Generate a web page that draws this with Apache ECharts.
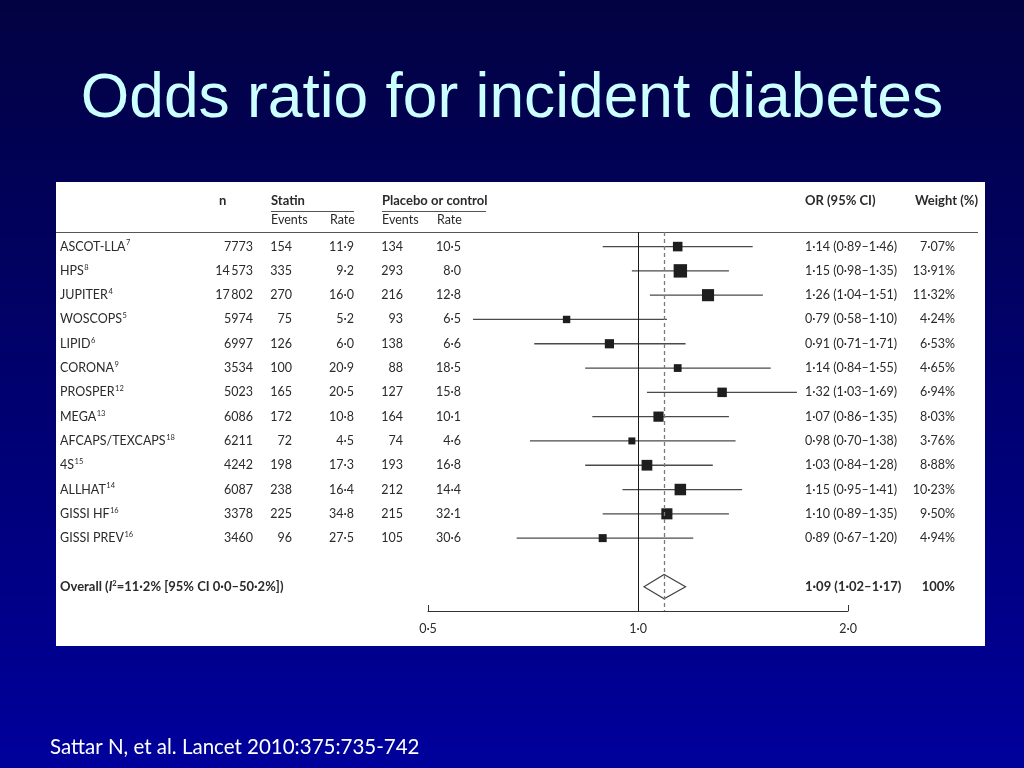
<!DOCTYPE html>
<html>
<head>
<meta charset="utf-8">
<script src="https://cdn.jsdelivr.net/npm/echarts@6/dist/echarts.min.js"></script>
<style>
html,body{margin:0;padding:0;width:1024px;height:768px;overflow:hidden;background:#000060;}
#c{width:1024px;height:768px;}
</style>
</head>
<body>
<div id="c"></div>
<script>
// ---------- data ----------
const names = ['ASCOT-LLA','HPS','JUPITER','WOSCOPS','LIPID','CORONA','PROSPER','MEGA','AFCAPS/TEXCAPS','4S','ALLHAT','GISSI HF','GISSI PREV'];
const refs = ['7','8','4','5','6','9','12','13','18','15','14','16','16'];
const nTotal = [7773,14573,17802,5974,6997,3534,5023,6086,6211,4242,6087,3378,3460];
const statinEvents = [154,335,270,75,126,100,165,172,72,198,238,225,96];
const statinRate = [11.9,9.2,16.0,5.2,6.0,20.9,20.5,10.8,4.5,17.3,16.4,34.8,27.5];
const placeboEvents = [134,293,216,93,138,88,127,164,74,193,212,215,105];
const placeboRate = [10.5,8.0,12.8,6.5,6.6,18.5,15.8,10.1,4.6,16.8,14.4,32.1,30.6];
const oddsRatio = [1.14,1.15,1.26,0.79,0.91,1.14,1.32,1.07,0.98,1.03,1.15,1.10,0.89];
const ciLow = [0.89,0.98,1.04,0.58,0.71,0.84,1.03,0.86,0.70,0.84,0.95,0.89,0.67];
const ciHigh = [1.46,1.35,1.51,1.10,1.17,1.55,1.69,1.35,1.38,1.28,1.41,1.35,1.20];
const orLabels = ['1·14 (0·89–1·46)','1·15 (0·98–1·35)','1·26 (1·04–1·51)','0·79 (0·58–1·10)','0·91 (0·71–1·71)','1·14 (0·84–1·55)','1·32 (1·03–1·69)','1·07 (0·86–1·35)','0·98 (0·70–1·38)','1·03 (0·84–1·28)','1·15 (0·95–1·41)','1·10 (0·89–1·35)','0·89 (0·67–1·20)'];
const weights = [7.07,13.91,11.32,4.24,6.53,4.65,6.94,8.03,3.76,8.88,10.23,9.50,4.94];
const overallOR = [1.09];
const overallLow = [1.02];
const overallHigh = [1.17];
const overallLabel = ['1·09 (1·02–1·17)'];
const overallWeight = ['100%'];
const xTicks = [0.5, 1, 2];

// ---------- layout ----------
const OVERALL_ROW = 14;
const FONT = 'Lato, "Open Sans", sans-serif';
const TXT = '#2a2a2a';
const REG = '12.5px ' + FONT;
const BOLD = 'bold 13px ' + FONT;
const LH = 15;
const col = {name:60, n:253, sEv:292, sRate:354, pEv:403, pRate:461, or:805, w:955};

const dot = s => String(s).replace('.', '·');
const fmt1 = v => dot(v.toFixed(1));
const fmtN = v => v >= 10000 ? String(v).replace(/(\d+)(\d{3})$/, '$1\u2009$2') : String(v);
const fmtW = v => dot(v.toFixed(2)) + '%';

const rows = names.map((_, i) => [1, i]);

function txt(x, y, text, align, extra) {
  return {
    type: 'text', x: x, y: y,
    style: Object.assign({text: text, fill: TXT, font: REG, align: align || 'left', verticalAlign: 'middle'}, extra || {})
  };
}
function gtxt(x, y, text, font) {
  return {type:'text', z:-8, x:x, y:y, style:{text:text, fill:TXT, font:font, align:'left', verticalAlign:'middle'}};
}

const chart = echarts.init(document.getElementById('c'), null, {renderer: 'canvas'});

const bg = {
  type: 'rect', z: -10, shape: {x:0, y:0, width:1024, height:768},
  style: {fill: new echarts.graphic.LinearGradient(0,0,0,1,[{offset:0,color:'#020242'},{offset:0.5,color:'#00006e'},{offset:1,color:'#00009c'}])}
};

const option = {
  animation: false,
  graphic: [
    bg,
    {type:'rect', z:-9, shape:{x:56, y:182, width:929, height:464}, style:{fill:'#ffffff'}},
    {type:'text', z:-8, x:512, y:100, style:{text:'Odds ratio for incident diabetes', fill:'#ccffff', font:'62.3px "Liberation Sans", Arial, sans-serif', align:'center', verticalAlign:'middle'}},
    {type:'text', z:-8, x:50, y:747, style:{text:'Sattar N, et al. Lancet 2010:375:735-742', fill:'#ffffff', font:'20.5px Lato, sans-serif', align:'left', verticalAlign:'middle'}},
    // header
    gtxt(219, 201, 'n', BOLD),
    gtxt(271, 201, 'Statin', BOLD),
    gtxt(382, 201, 'Placebo or control', BOLD),
    gtxt(805, 201, 'OR (95% CI)', BOLD),
    gtxt(915, 201, 'Weight (%)', BOLD),
    {type:'line', z:-8, shape:{x1:271, y1:211.5, x2:354, y2:211.5}, style:{stroke:'#555', lineWidth:1}},
    {type:'line', z:-8, shape:{x1:382, y1:211.5, x2:486, y2:211.5}, style:{stroke:'#555', lineWidth:1}},
    gtxt(271, 220, 'Events', REG),
    gtxt(330, 220, 'Rate', REG),
    gtxt(382, 220, 'Events', REG),
    gtxt(437, 220, 'Rate', REG),
    {type:'line', z:-8, shape:{x1:56, y1:232.5, x2:978, y2:232.5}, style:{stroke:'#555', lineWidth:1}}
  ],
  grid: {left: 428, right: 176, top: 232, bottom: 157, containLabel: false},
  xAxis: {
    type: 'log', logBase: 2, min: xTicks[0], max: xTicks[xTicks.length-1],
    axisLine: {show: true, onZero: false, lineStyle: {color: '#333', width: 1}},
    axisTick: {show: true, inside: true, length: 6, lineStyle: {color: '#333'}},
    minorTick: {show: false},
    splitLine: {show: false},
    axisLabel: {margin: 11, color: TXT, fontFamily: 'Lato, sans-serif', fontSize: 12.5, formatter: v => fmt1(v)}
  },
  yAxis: {type: 'value', inverse: true, min: -0.6, max: 15, show: false},
  series: [
    {
      name: 'CI', type: 'custom', z: 2,
      data: names.map((_, i) => [ciLow[i], ciHigh[i], i]),
      encode: {x: [0, 1], y: 2},
      renderItem: function (params, api) {
        const a = api.coord([api.value(0), api.value(2)]);
        const b = api.coord([api.value(1), api.value(2)]);
        return {type: 'line', shape: {x1: a[0], y1: a[1], x2: b[0], y2: b[1]}, style: {stroke: '#4a4a4a', lineWidth: 1.3}};
      },
      markLine: {
        silent: true, symbol: 'none', label: {show: false},
        data: [
          {xAxis: 1, lineStyle: {color: '#1a1a1a', width: 1, type: 'solid'}},
          {xAxis: overallOR[0], lineStyle: {color: '#7a7a7a', width: 1.3, type: [4, 3]}}
        ]
      }
    },
    {
      name: 'OR', type: 'scatter', z: 4, symbol: 'rect',
      data: names.map((_, i) => [oddsRatio[i], i, weights[i]]),
      symbolSize: v => 3.6 * Math.sqrt(v[2]),
      itemStyle: {color: '#1e1e1e', opacity: 1}
    },
    {
      name: 'Overall', type: 'custom', z: 4,
      data: [[overallLow[0], overallOR[0], overallHigh[0], OVERALL_ROW]],
      encode: {x: [0, 1, 2], y: 3},
      renderItem: function (params, api) {
        const r = api.value(3);
        const l = api.coord([api.value(0), r]);
        const h = api.coord([api.value(2), r]);
        const top = api.coord([api.value(1), r - 0.5]);
        const bot = api.coord([api.value(1), r + 0.5]);
        return {type: 'polygon', shape: {points: [[l[0], l[1]], [top[0], top[1]], [h[0], h[1]], [bot[0], bot[1]]]}, style: {fill: 'rgba(255,255,255,0)', stroke: '#444', lineWidth: 1.2}};
      }
    },
    {
      name: 'Table', type: 'custom', z: 5, clip: false,
      data: rows,
      encode: {x: 0, y: 1},
      renderItem: function (params, api) {
        const i = api.value(1);
        const y = api.coord([1, i])[1];
        return {type: 'group', children: [
          {type: 'text', x: col.name, y: y, style: {
            text: '{a|' + names[i] + '}{s|' + refs[i] + '}', align: 'left', verticalAlign: 'middle',
            rich: {a: {fill: TXT, font: REG, lineHeight: LH, verticalAlign: 'middle'},
                   s: {fill: TXT, font: '7.5px ' + FONT, lineHeight: 9, verticalAlign: 'top', padding: [0,0,0,0.5]}}
          }},
          txt(col.n, y, fmtN(nTotal[i]), 'right'),
          txt(col.sEv, y, String(statinEvents[i]), 'right'),
          txt(col.sRate, y, fmt1(statinRate[i]), 'right'),
          txt(col.pEv, y, String(placeboEvents[i]), 'right'),
          txt(col.pRate, y, fmt1(placeboRate[i]), 'right'),
          txt(col.or, y, orLabels[i], 'left'),
          txt(col.w, y, fmtW(weights[i]), 'right')
        ]};
      }
    },
    {
      name: 'OverallText', type: 'custom', z: 5, clip: false,
      data: [[1, OVERALL_ROW]],
      encode: {x: 0, y: 1},
      renderItem: function (params, api) {
        const y = api.coord([1, api.value(1)])[1];
        return {type: 'group', children: [
          {type: 'text', x: col.name, y: y, style: {
            text: '{b|Overall (}{i|I}{s|2}{b|=11·2% [95% CI 0·0–50·2%])}', align: 'left', verticalAlign: 'middle',
            rich: {b: {fill: TXT, font: BOLD, lineHeight: LH, verticalAlign: 'middle'},
                   i: {fill: TXT, font: 'italic ' + BOLD, lineHeight: LH, verticalAlign: 'middle'},
                   s: {fill: TXT, font: 'bold 7.5px ' + FONT, lineHeight: 9, verticalAlign: 'top'}}
          }},
          txt(col.or, y, overallLabel[0], 'left', {font: BOLD}),
          txt(col.w, y, overallWeight[0], 'right', {font: BOLD})
        ]};
      }
    }
  ]
};
chart.setOption(option);
</script>
</body>
</html>
